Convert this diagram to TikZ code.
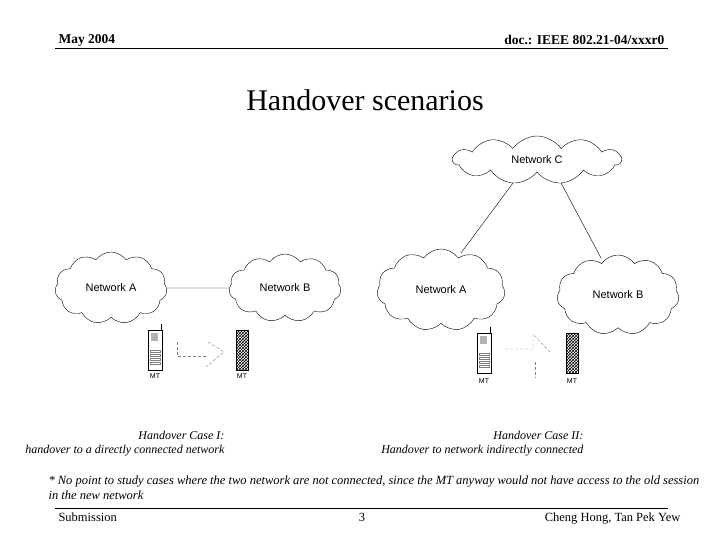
\documentclass[tikz,border=0pt]{standalone}
\usepackage{fontspec}
\setmainfont{Liberation Serif}
\newfontfamily\arial{Liberation Sans}
\usetikzlibrary{shapes.symbols,patterns}
\begin{document}
\begin{tikzpicture}[x=1pt,y=-1pt,
 cloudn/.style={cloud,draw,thin,cloud puffs=11,cloud puff arc=110,aspect=1.6,inner sep=0pt,font=\arial\fontsize{11}{12}\selectfont},
 conn/.style={draw,thin,black},
 dot/.style={draw,densely dashed,gray,thin},
 mtl/.style={font=\arial\fontsize{7}{8}\selectfont},
 captxt/.style={font=\itshape\fontsize{12}{14}\selectfont,align=right}]
\useasboundingbox (0,0) rectangle (720,540);
\node[anchor=west,font=\bfseries\fontsize{13.5}{15}\selectfont] (hd1) at (55,40) {May 2004};
\node[anchor=east,font=\bfseries\fontsize{13.5}{15}\selectfont] (hd2) at (668,40) {doc.: IEEE 802.21-04/xxxr0};
\draw[line width=1pt] (55,49) -- (668,49);
\node[font=\fontsize{30}{34}\selectfont] (title) at (365,100) {Handover scenarios};
% left
\node[cloudn,minimum width=112,minimum height=72] (A1) at (111,288) {Network A};
\node[cloudn,minimum width=112,minimum height=68] (B1) at (285,288) {Network B};
\draw[conn] (A1.east) -- (B1.west);
% right
\node[cloudn,minimum width=168,minimum height=48,aspect=3.5] (C) at (537,160) {Network C};
\node[cloudn,minimum width=128,minimum height=82] (A2) at (441,290) {Network A};
\node[cloudn,minimum width=122,minimum height=80] (B2) at (618,295) {Network B};
\draw[conn] (513,183) -- (461,253);
\draw[conn] (561,183) -- (601,258);
% phones
\foreach \x/\y/\n in {155/326/p1,484/329/p3}{
 \draw[thin] (\x-7,\y+4) rectangle (\x+7,\y+44);
 \draw[thin] (\x+6,\y+4) -- (\x+6,\y-2);
 \fill[gray!60] (\x-4,\y+7) rectangle (\x+3,\y+15);
 \foreach \k in {0,1,2,3}{\draw[gray,very thin] (\x-5,\y+24+\k*4) rectangle (\x+5,\y+26+\k*4);}
}
\foreach \x/\y in {242/328,572/331}{
 \draw[thin,pattern=crosshatch] (\x-6,\y+2) rectangle (\x+6,\y+42);
}
\node[mtl] (m1) at (155,376) {MT};
\node[mtl] (m2) at (242,376) {MT};
\node[mtl] (m3) at (484,381) {MT};
\node[mtl] (m4) at (572,381) {MT};
% dotted arrows
\draw[dot] (177,342) -- (177,356) -- (206,356);
\draw[dot] (208,342) -- (224,352) -- (206,367);
\draw[dot] (505,349) -- (533,349) -- (533,334) -- (550,352);
\draw[dot] (535,362) -- (535,378);
% captions
\node[captxt,anchor=north east] (c1) at (228,428) {Handover Case I:\\handover to a directly connected network};
\node[captxt,anchor=north east] (c2) at (587,428) {Handover Case II:\\Handover to network indirectly connected};
\node[font=\itshape\fontsize{12.5}{15}\selectfont,align=left,anchor=north west] (note) at (45,472) {* No point to study cases where the two network are not connected, since the MT anyway would not have access to the old session\\ in the new network};
\draw[line width=1pt] (55,508) -- (668,508);
\node[anchor=west,font=\fontsize{12.5}{14}\selectfont] (f1) at (55,517) {Submission};
\node[font=\fontsize{12.5}{14}\selectfont] (f2) at (362,517) {3};
\node[anchor=east,font=\fontsize{12.5}{14}\selectfont] (f3) at (684,519) {Cheng Hong, Tan Pek Yew};
\end{tikzpicture}
\end{document}
